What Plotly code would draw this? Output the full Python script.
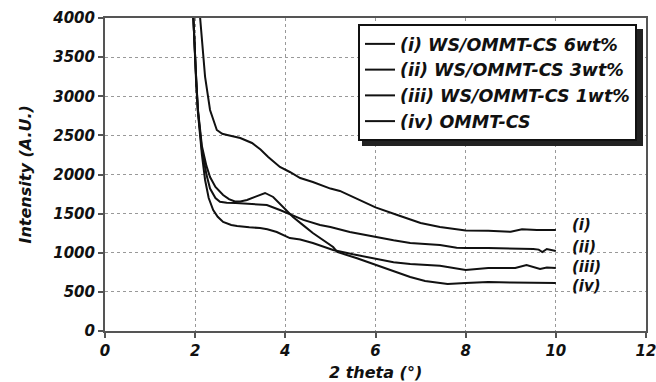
import plotly.graph_objects as go

# ---- data ----
names = ["(i) WS/OMMT-CS 6wt%", "(ii) WS/OMMT-CS 3wt%",
         "(iii) WS/OMMT-CS 1wt%", "(iv) OMMT-CS"]
short_labels = ["(i)", "(ii)", "(iii)", "(iv)"]
label_y = [1355, 1073, 818, 575]

x_i = [2.0, 2.11, 2.22, 2.33, 2.48, 2.6, 2.71, 3.0, 3.26, 3.45, 3.62, 3.88, 4.1, 4.33,
       4.61, 5.0, 5.21, 5.58, 6.0, 6.5, 7.0, 7.43, 7.8, 8.0, 8.5, 9.0, 9.25, 9.58, 10.0]
y_i = [5200, 4000, 3246, 2824, 2569, 2520, 2505, 2467, 2403, 2320, 2224, 2096, 2032, 1955,
       1904, 1820, 1790, 1690, 1580, 1480, 1380, 1329, 1295, 1285, 1280, 1268, 1300, 1291, 1291]

x_ii = [1.88, 1.96, 2.02, 2.06, 2.15, 2.25, 2.33, 2.45, 2.55, 2.7, 2.9, 3.2, 3.59, 3.88,
        4.17, 4.4, 4.77, 5.0, 5.43, 6.0, 6.4, 6.77, 7.43, 7.8, 8.0, 8.5, 9.0, 9.5, 9.62,
        9.7, 9.8, 10.0]
y_ii = [4600, 4000, 3250, 2824, 2313, 2000, 1820, 1700, 1652, 1638, 1636, 1628, 1610, 1546,
        1470, 1420, 1355, 1330, 1265, 1201, 1160, 1125, 1099, 1065, 1061, 1061, 1058, 1048,
        1040, 1010, 1048, 1022]

x_iii = [1.88, 1.96, 2.02, 2.06, 2.15, 2.22, 2.3, 2.4, 2.5, 2.62, 2.8, 2.93, 3.2, 3.44,
         3.6, 3.81, 4.1, 4.33, 4.61, 5.06, 5.5, 6.0, 6.4, 6.77, 7.43, 8.0, 8.2, 8.5, 9.1,
         9.35, 9.65, 9.8, 10.0]
y_iii = [4600, 4000, 3200, 2800, 2250, 1930, 1700, 1546, 1460, 1393, 1355, 1342, 1325, 1316,
         1300, 1265, 1188, 1170, 1125, 1035, 980, 920, 880, 855, 835, 779, 790, 805, 805,
         843, 792, 810, 805]

x_iv = [1.88, 1.96, 2.02, 2.06, 2.15, 2.25, 2.33, 2.45, 2.62, 2.75, 2.88, 3.0, 3.15, 3.35,
        3.55, 3.73, 3.95, 4.17, 4.4, 4.61, 5.06, 5.15, 5.59, 6.0, 6.4, 6.77, 7.1, 7.43, 7.6,
        8.0, 8.5, 9.0, 9.5, 10.0]
y_iv = [4600, 4000, 3260, 2840, 2360, 2110, 1968, 1840, 1738, 1685, 1655, 1655, 1674, 1720,
        1764, 1713, 1585, 1457, 1350, 1252, 1073, 1010, 930, 850, 770, 690, 640, 613, 600,
        613, 626, 620, 615, 613]

xs = [x_i, x_ii, x_iii, x_iv]
ys = [y_i, y_ii, y_iii, y_iv]

FONT = "DejaVu Sans"
INK = "#111111"

def bfont(size):
    return dict(family=FONT, size=size, color=INK, weight="bold", style="italic")

fig = go.Figure()
for k in range(4):
    fig.add_trace(go.Scatter(
        x=xs[k], y=ys[k], mode="lines", name=names[k], legendgroup=str(k),
        line=dict(color=INK, width=2),
    ))

for k in range(4):
    fig.add_annotation(
        x=10.31, y=label_y[k], xref="x", yref="y", text=short_labels[k],
        showarrow=False, xanchor="left", yanchor="middle", font=bfont(15),
    )

W, H = 656, 382
ML, MR, MT, MB = 105, 10, 18, 51
pw, ph = W - ML - MR, H - MT - MB

def px_to_paper(px, py):
    return (px - ML) / pw, (H - MB - py) / ph

# axis titles
fig.add_annotation(x=0.5, y=0, xref="paper", yref="paper", yshift=-41,
                   text="2 theta (°)", showarrow=False, xanchor="center",
                   yanchor="middle", font=bfont(16))
fig.add_annotation(x=0, y=0.5, xref="paper", yref="paper", xshift=-80,
                   text="Intensity (A.U.)", showarrow=False, textangle=-90,
                   xanchor="center", yanchor="middle", font=bfont(16))

# legend shadow
sx0, sy0 = px_to_paper(362, 29)
sx1, sy1 = px_to_paper(643, 146)
fig.add_shape(type="rect", xref="paper", yref="paper", x0=sx0, y0=sy1, x1=sx1, y1=sy0,
              fillcolor="#222222", line=dict(width=0), layer="above")

lx, ly = px_to_paper(358, 24)

axis_common = dict(
    showline=True, linecolor="#555555", linewidth=2, mirror=True,
    ticks="outside", ticklen=5, tickcolor="#555555", tickwidth=1.5,
    showgrid=True, gridcolor="#999999", griddash="dot", gridwidth=1,
    zeroline=False, automargin=False, tickfont=bfont(15),
    ticklabeloverflow="allow",
)

fig.update_layout(
    width=W, height=H,
    margin=dict(l=ML, r=MR, t=MT, b=MB, autoexpand=False),
    paper_bgcolor="white", plot_bgcolor="white",
    xaxis=dict(range=[0, 12], dtick=2, tick0=0, **axis_common),
    yaxis=dict(range=[0, 4000], dtick=500, tick0=0, **axis_common),
    showlegend=True,
    legend=dict(x=lx, y=ly, xanchor="left", yanchor="top",
                bgcolor="white", bordercolor=INK, borderwidth=2,
                tracegroupgap=0, font=bfont(17.5)),
)

fig.write_html("out.html", config={"displayModeBar": False},
               post_script="document.body.style.margin='0';document.body.style.overflow='hidden';")
